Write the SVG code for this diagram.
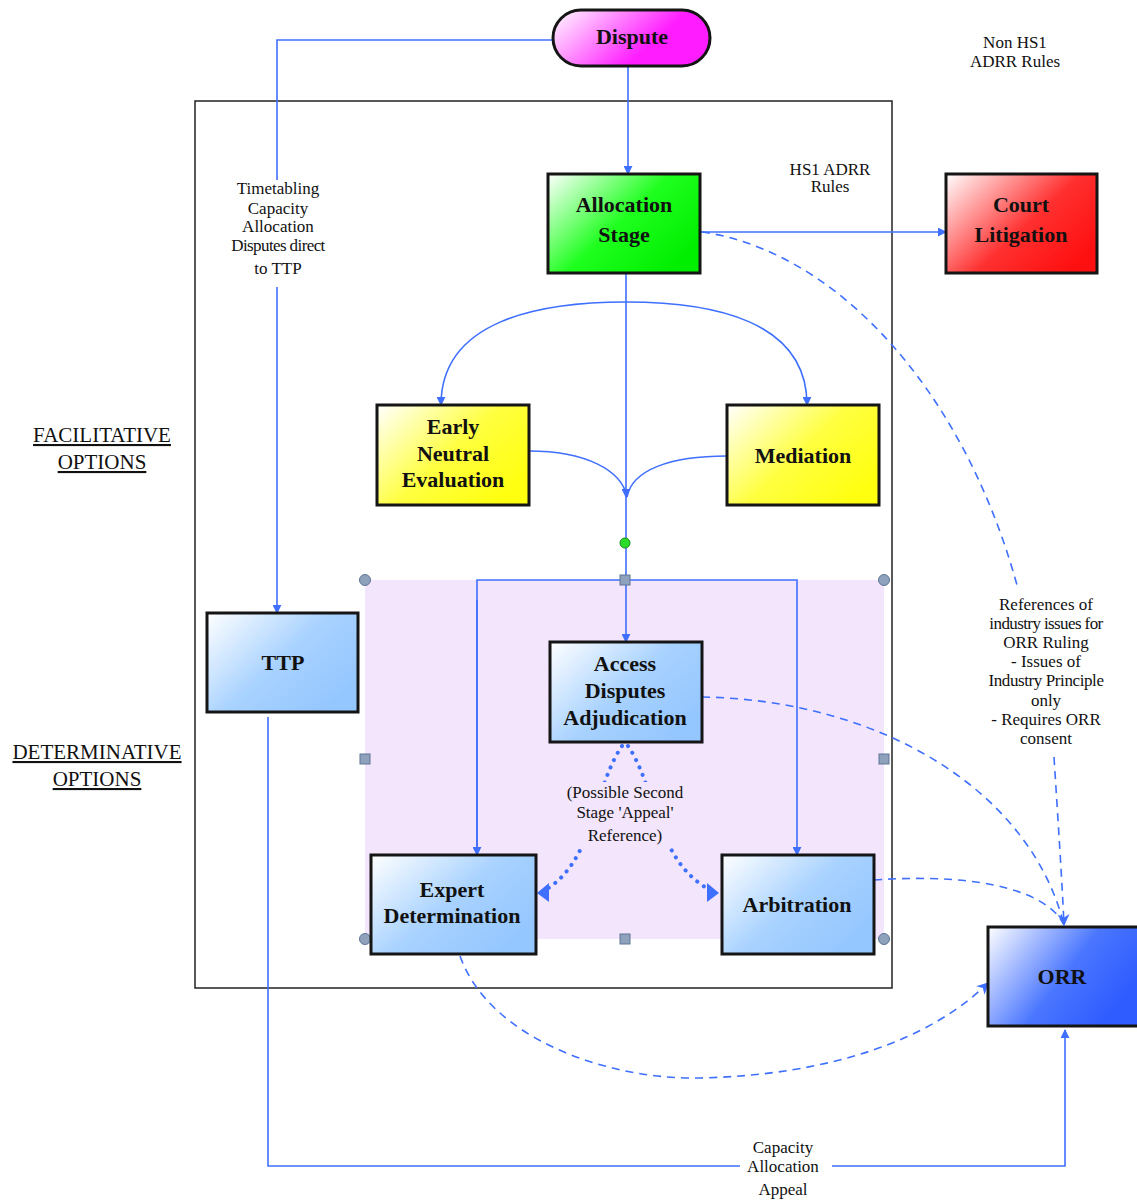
<svg xmlns="http://www.w3.org/2000/svg" width="1137" height="1200" viewBox="0 0 1137 1200">
<style>
.node{stroke:#151515;stroke-width:3}
.nt{font-family:"Liberation Serif","DejaVu Serif",serif;font-weight:bold;font-size:22px;fill:#111;text-anchor:middle}
.lb{font-family:"Liberation Serif","DejaVu Serif",serif;font-size:17px;fill:#111;text-anchor:middle}
.side{font-family:"Liberation Serif","DejaVu Serif",serif;font-size:21px;fill:#111;text-anchor:middle;text-decoration:underline}
.ln{fill:none;stroke:#3f6fff;stroke-width:1.6}
.dash{fill:none;stroke:#3f6fff;stroke-width:1.6;stroke-dasharray:8 6}
.dot{fill:none;stroke:#3f6fff;stroke-width:4;stroke-dasharray:0.1 8;stroke-linecap:round}
.hd{fill:#8fa2bc;stroke:#5f7596;stroke-width:1}
</style>
<defs>
<linearGradient id="gMag" x1="0" y1="0" x2="1" y2="0.4"><stop offset="0" stop-color="#fff"/><stop offset="0.75" stop-color="#ff1dff"/></linearGradient>
<linearGradient id="gGreen" x1="0" y1="0" x2="1" y2="0.7"><stop offset="0" stop-color="#fff"/><stop offset="0.55" stop-color="#1eff1e"/><stop offset="1" stop-color="#00ee00"/></linearGradient>
<linearGradient id="gRed" x1="0" y1="0" x2="1" y2="0.7"><stop offset="0" stop-color="#fff"/><stop offset="0.6" stop-color="#ff3030"/><stop offset="1" stop-color="#ff1010"/></linearGradient>
<linearGradient id="gYel" x1="0" y1="0" x2="1" y2="0.7"><stop offset="0" stop-color="#fff"/><stop offset="0.55" stop-color="#ffff40"/><stop offset="1" stop-color="#ffff10"/></linearGradient>
<linearGradient id="gLBlue" x1="0" y1="0" x2="1" y2="0.7"><stop offset="0" stop-color="#fff"/><stop offset="0.55" stop-color="#a8d2ff"/><stop offset="1" stop-color="#94c6ff"/></linearGradient>
<linearGradient id="gBlue" x1="0" y1="0" x2="1" y2="0.5"><stop offset="0" stop-color="#fff"/><stop offset="0.6" stop-color="#4a76ff"/><stop offset="1" stop-color="#2f5cff"/></linearGradient>
<marker id="ar" viewBox="0 0 10 10" refX="9" refY="5" markerWidth="9" markerHeight="9" markerUnits="userSpaceOnUse" orient="auto"><path d="M0,0 L10,5 L0,10 z" fill="#3f6fff"/></marker>
<marker id="ar2" viewBox="0 0 10 10" refX="9" refY="5" markerWidth="12" markerHeight="12" markerUnits="userSpaceOnUse" orient="auto"><path d="M0,0 L10,5 L0,10 L3,5 z" fill="#3f6fff"/></marker>
</defs>
<rect width="1137" height="1200" fill="#fff"/>

<!-- outer frame and region -->
<rect x="195" y="101" width="697" height="887" fill="none" stroke="#222" stroke-width="1.5"/>
<rect x="365" y="580" width="519" height="359" fill="#f2e5fc"/>

<g id="connectors">
<path class="ln" d="M553,40 H277 V180"/>
<path class="ln" d="M277,287 V613" marker-end="url(#ar)"/>
<path class="ln" d="M628,66 V174" marker-end="url(#ar)"/>
<path class="ln" d="M700,232 H946" marker-end="url(#ar)"/>
<path class="ln" d="M626,273 V497" marker-end="url(#ar)"/>
<path class="ln" d="M626,302 C540,302 441,320 441,405" marker-end="url(#ar)"/>
<path class="ln" d="M626,302 C712,302 807,320 807,405" marker-end="url(#ar)"/>
<path class="ln" d="M529,451 C585,451 622,470 627,497"/>
<path class="ln" d="M727,456 C670,456 632,470 627,497"/>
<path class="ln" d="M626,497 V642" marker-end="url(#ar)"/>
<path class="ln" d="M477,855 V580 H797 V855" marker-end="url(#ar)"/>
<path class="ln" d="M477,600 V855" marker-end="url(#ar)"/>
<path class="dot" d="M622,746 C592,790 595,865 540,893"/>
<path class="dot" d="M628,746 C658,790 655,865 716,893"/>
<path d="M549,883 L537,893 L549,902 z" fill="#3f6fff"/>
<path d="M707,883 L719,893 L707,902 z" fill="#3f6fff"/>
<path class="dash" d="M702,232 C830,250 960,380 1017,585"/>
<path class="dash" d="M1054,757 C1058,820 1062,880 1064,925" marker-end="url(#ar2)"/>
<path class="dash" d="M702,697 C880,700 1030,790 1064,925"/>
<path class="dash" d="M874,880 C990,872 1050,895 1064,925"/>
<path class="dash" d="M460,956 C490,1040 610,1080 700,1078 C830,1075 930,1040 988,983" marker-end="url(#ar2)"/>
<path class="ln" d="M268,717 V1166 H740"/>
<path class="ln" d="M832,1166 H1065 V1030" marker-end="url(#ar)"/>
</g>

<!-- handles -->
<circle cx="625" cy="543" r="5" fill="#2bdc2b" stroke="#1a8a1a" stroke-width="1"/>
<circle class="hd" cx="365" cy="580" r="5.5"/>
<circle class="hd" cx="884" cy="580" r="5.5"/>
<circle class="hd" cx="365" cy="939" r="5.5"/>
<circle class="hd" cx="884" cy="939" r="5.5"/>
<rect class="hd" x="620" y="575" width="10" height="10"/>
<rect class="hd" x="360" y="754" width="10" height="10"/>
<rect class="hd" x="879" y="754" width="10" height="10"/>
<rect class="hd" x="620" y="934" width="10" height="10"/>

<g id="dispute"><rect class="node" x="553" y="10" width="157" height="56" rx="28" fill="url(#gMag)"/><text class="nt" x="632" y="44">Dispute</text></g>
<g id="allocation"><rect class="node" x="548" y="174" width="152" height="99" fill="url(#gGreen)"/><text class="nt" x="624" y="212">Allocation</text><text class="nt" x="624" y="242">Stage</text></g>
<g id="court"><rect class="node" x="946" y="174" width="151" height="99" fill="url(#gRed)"/><text class="nt" x="1021" y="212">Court</text><text class="nt" x="1021" y="242">Litigation</text></g>
<g id="ene"><rect class="node" x="377" y="405" width="152" height="100" fill="url(#gYel)"/><text class="nt" x="453" y="434">Early</text><text class="nt" x="453" y="461">Neutral</text><text class="nt" x="453" y="487">Evaluation</text></g>
<g id="mediation"><rect class="node" x="727" y="405" width="152" height="100" fill="url(#gYel)"/><text class="nt" x="803" y="463">Mediation</text></g>
<g id="ttp"><rect class="node" x="207" y="613" width="151" height="99" fill="url(#gLBlue)"/><text class="nt" x="283" y="670">TTP</text></g>
<g id="ada"><rect class="node" x="550" y="642" width="152" height="100" fill="url(#gLBlue)"/><text class="nt" x="625" y="671">Access</text><text class="nt" x="625" y="698">Disputes</text><text class="nt" x="625" y="725">Adjudication</text></g>
<g id="expert"><rect class="node" x="371" y="855" width="165" height="99" fill="url(#gLBlue)"/><text class="nt" x="452" y="897">Expert</text><text class="nt" x="452" y="923">Determination</text></g>
<g id="arbitration"><rect class="node" x="722" y="855" width="152" height="99" fill="url(#gLBlue)"/><text class="nt" x="797" y="912">Arbitration</text></g>
<g id="orr"><rect class="node" x="988" y="927" width="152" height="99" fill="url(#gBlue)"/><text class="nt" x="1062" y="984">ORR</text></g>

<g id="labels">
<text class="lb" x="1015" y="48">Non HS1</text>
<text class="lb" x="1015" y="67">ADRR Rules</text>
<text class="lb" x="830" y="175">HS1 ADRR</text>
<text class="lb" x="830" y="192">Rules</text>
<text class="lb" x="278" y="194">Timetabling</text>
<text class="lb" x="278" y="214">Capacity</text>
<text class="lb" x="278" y="232">Allocation</text>
<text class="lb" x="278" y="251" letter-spacing="-0.6">Disputes direct</text>
<text class="lb" x="278" y="274">to TTP</text>
<text class="side" x="102" y="442">FACILITATIVE</text>
<text class="side" x="102" y="469">OPTIONS</text>
<text class="side" x="97" y="759">DETERMINATIVE</text>
<text class="side" x="97" y="786">OPTIONS</text>
<rect x="561" y="782" width="130" height="65" fill="#f2e5fc"/>
<text class="lb" x="625" y="798">(Possible Second</text>
<text class="lb" x="625" y="818">Stage 'Appeal'</text>
<text class="lb" x="625" y="841">Reference)</text>
<text class="lb" x="1046" y="610">References of</text>
<text class="lb" x="1046" y="629" letter-spacing="-0.6">industry issues for</text>
<text class="lb" x="1046" y="648">ORR Ruling</text>
<text class="lb" x="1046" y="667">- Issues of</text>
<text class="lb" x="1046" y="686" letter-spacing="-0.4">Industry Principle</text>
<text class="lb" x="1046" y="706">only</text>
<text class="lb" x="1046" y="725">- Requires ORR</text>
<text class="lb" x="1046" y="744">consent</text>
<text class="lb" x="783" y="1153">Capacity</text>
<text class="lb" x="783" y="1172">Allocation</text>
<text class="lb" x="783" y="1195">Appeal</text>
</g>
</svg>
